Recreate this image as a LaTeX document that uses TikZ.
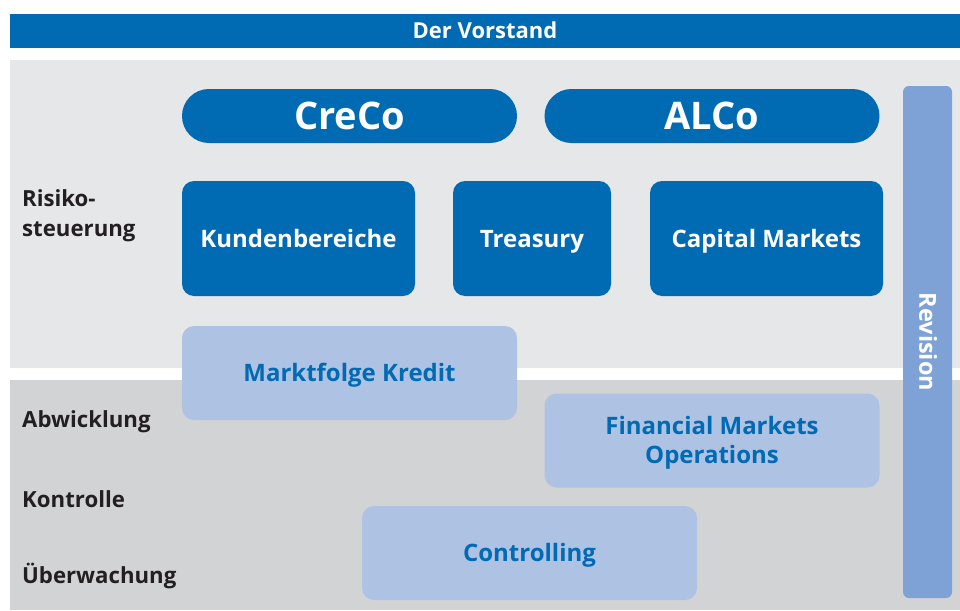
\documentclass[tikz,border=0pt]{standalone}
\usepackage{fontspec}
\setmainfont{Open Sans}
\usetikzlibrary{positioning}
\definecolor{vorstandblau}{HTML}{006AB3}
\definecolor{revisionblau}{HTML}{7EA2D5}
\definecolor{hellblau}{HTML}{AEC3E4}
\definecolor{hellgrau}{HTML}{E6E7E9}
\definecolor{dunkelgrau}{HTML}{D2D3D5}
\definecolor{schrift}{HTML}{231F20}
\begin{document}
\begin{tikzpicture}[x=1pt,y=-1pt,inner sep=0pt,
  %Versalhoehe ca. 0.714 x Schriftgroesse, damit die Schrift mittig sitzt
  mittig/.style={text height=#1,text depth=0pt},
  balken/.style={fill=vorstandblau,text=white,mittig=15.7pt,font=\bfseries\fontsize{22}{24}\selectfont},
  gremium/.style={fill=vorstandblau,text=white,mittig=27pt,rounded corners=26.9pt,minimum width=335pt,minimum height=54pt,font=\bfseries\fontsize{38}{42}\selectfont},
  bereich/.style={fill=vorstandblau,text=white,mittig=17.1pt,rounded corners=12pt,minimum height=115pt,font=\bfseries\fontsize{24}{28}\selectfont},
  stelle/.style={fill=hellblau,text=vorstandblau,rounded corners=12pt,minimum width=335pt,minimum height=94pt,align=center,font=\bfseries\fontsize{24}{29}\selectfont},
  ebene/.style={text=schrift,anchor=west,align=left,font=\bfseries\fontsize{22.2}{30}\selectfont}]
  \useasboundingbox (0,0) rectangle (960,610);
%Hintergrund: oben Steuerung, unten Abwicklung/Kontrolle
  \fill[hellgrau] (10,60) rectangle (960,368);
  \fill[dunkelgrau] (10,380) rectangle (960,610);
  \node[balken,minimum width=950pt,minimum height=34pt] (vorstand) at (485,31) {Der Vorstand};
%Gremien
  \node[gremium] (creco) at (349.5,116) {CreCo};
  \node[gremium] (alco) at (712,116) {ALCo};
%Markt
  \node[bereich,minimum width=233pt] (kunden) at (298.5,238.5) {Kundenbereiche};
  \node[bereich,minimum width=158pt] (treasury) at (532,238.5) {Treasury};
  \node[bereich,minimum width=233pt] (capital) at (766.5,238.5) {Capital Markets};
%Marktfolge (zweizeilig: Hoehe = Versalhoehe + Zeilenabstand)
  \node[stelle,mittig=17.1pt] (marktfolge) at (349.5,373) {Marktfolge Kredit};
  \node[stelle,mittig=46.1pt] (fmo) at (712,440.5) {Financial Markets\\Operations};
  \node[stelle,mittig=17.1pt] (controlling) at (529.5,553) {Controlling};
  \node[fill=revisionblau,text=white,mittig=16.4pt,rounded corners=6pt,rotate=-90,minimum width=512pt,minimum height=49pt,font=\bfseries\fontsize{23.5}{26}\selectfont] (revision) at (927.5,342) {Revision};
%Ebenen links
  \node[ebene] (risiko) at (22,216) {Risiko-\\steuerung};
  \foreach \name/\y/\text in {abwicklung/422/Abwicklung,kontrolle/499/Kontrolle,ueberwachung/576/Überwachung}{
    \node[ebene] (\name) at (22,\y) {\text};
  }
\end{tikzpicture}
\end{document}
